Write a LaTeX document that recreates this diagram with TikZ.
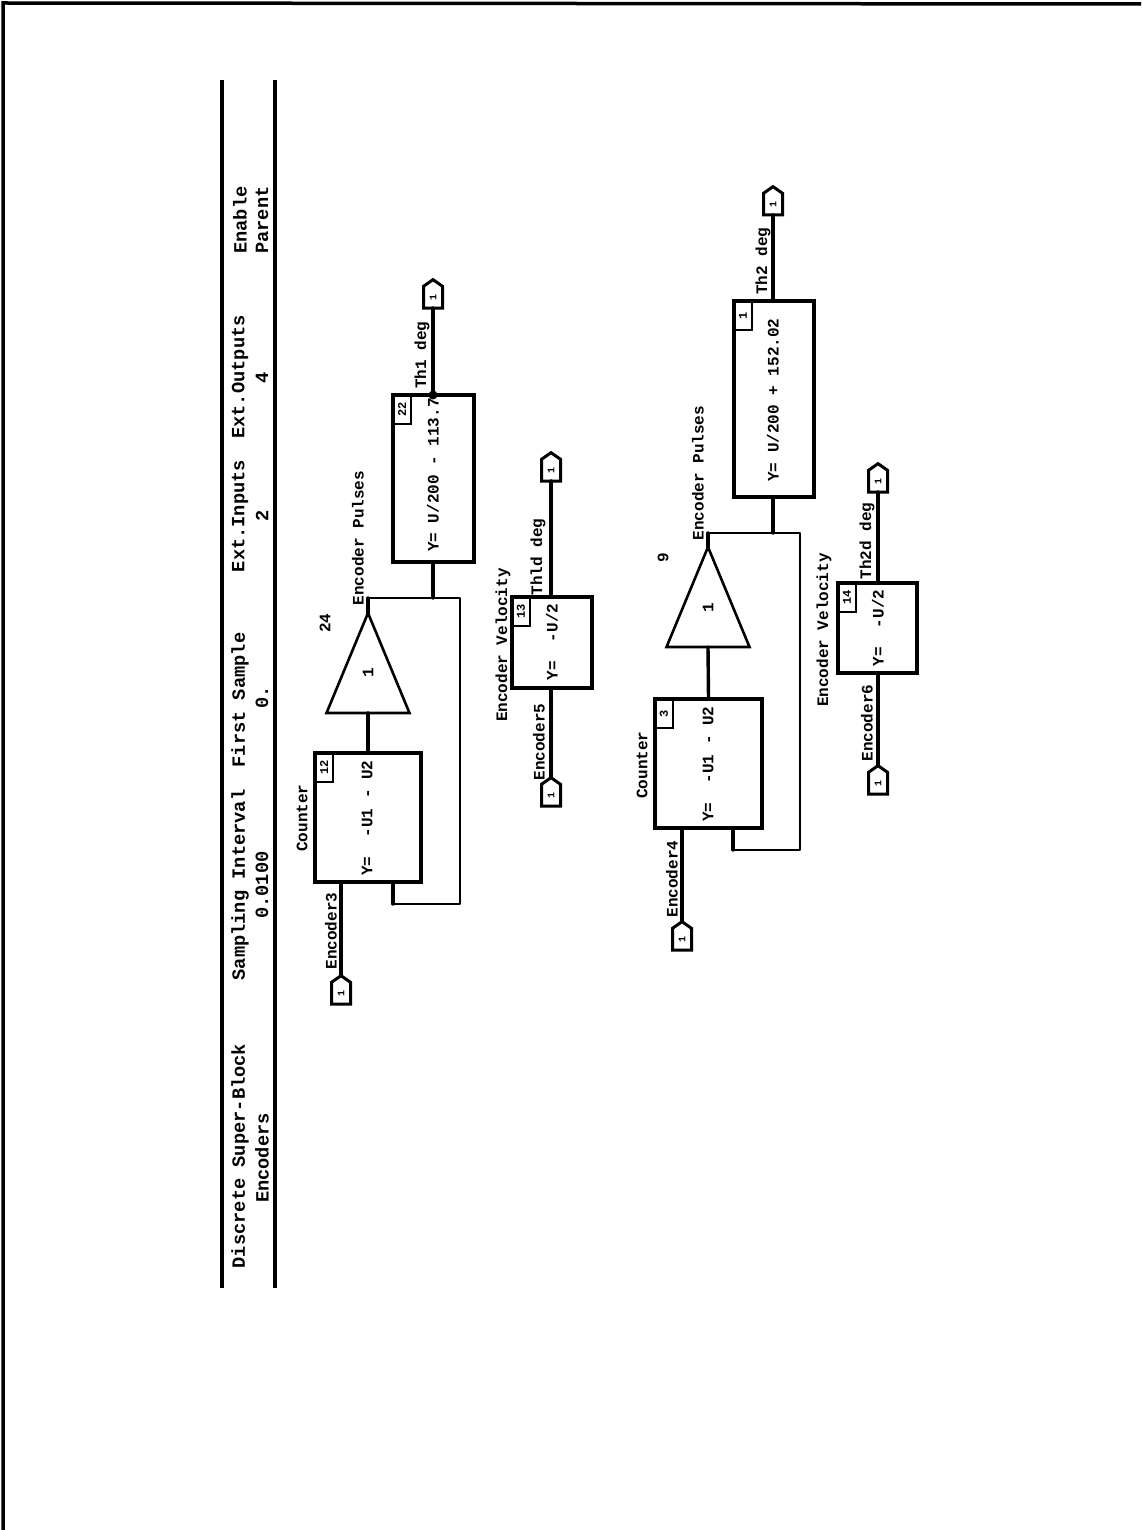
\documentclass[tikz,border=0pt]{standalone}
\usepackage{fontspec}
\usetikzlibrary{shapes.geometric,shapes.symbols}
\newfontfamily\plotfont{Liberation Mono}
\tikzset{
  x=1pt,y=-1pt,
  frameline/.style={line width=3.5pt,black},
  rule/.style={line width=3.5pt,black},
  blockbox/.style={draw,line width=3.2pt,rectangle,inner sep=0pt,outer sep=0pt,anchor=north west},
  tagbox/.style={draw,line width=2.2pt,rectangle,inner sep=0pt,outer sep=0pt,anchor=north west,minimum width=18pt,minimum height=29pt,font=\plotfont\bfseries\fontsize{12}{14}\selectfont},
  gainbox/.style={draw,line width=2.6pt,isosceles triangle,shape border rotate=90,isosceles triangle stretches,inner sep=0pt,outer sep=0pt,anchor=apex,minimum height=100pt,minimum width=83pt},
  portbox/.style={draw,line width=3pt,signal,signal to=north,signal pointer angle=110,inner sep=0pt,outer sep=0pt,minimum width=19pt,minimum height=24pt,anchor=south,font=\plotfont\bfseries\fontsize{10}{12}\selectfont},
  wire/.style={line width=3.4pt,line cap=round},
  thinwire/.style={line width=2.8pt,line join=round,line cap=round},
  txt/.style={rotate=90,inner sep=0pt,font=\plotfont\bfseries\fontsize{16}{18}\selectfont},
  headtxt/.style={rotate=90,inner sep=0pt,font=\plotfont\bfseries\fontsize{18.7}{20}\selectfont},
}
\begin{document}
\begin{tikzpicture}
\useasboundingbox (0,0) rectangle (1141,1530);
% page frame
\coordinate (fa) at (3,1530);
\coordinate (fb) at (3,3);
\coordinate (fc) at (1141,4);
\draw[frameline] (fa) -- (fb) -- (fc);
% header rules
\coordinate (r1a) at (222,80); \coordinate (r1b) at (222,1288);
\coordinate (r2a) at (275,80); \coordinate (r2b) at (275,1288);
\draw[rule] (r1a) -- (r1b);
\draw[rule] (r2a) -- (r2b);
% header text
\node[headtxt] (h1) at (240,1156) {Discrete Super-Block};
\node[headtxt] (h2) at (262,1158) {Encoders};
\node[headtxt] (h3) at (240,885) {Sampling Interval};
\node[headtxt] (h4) at (262,885) {0.0100};
\node[headtxt] (h5) at (240,700) {First Sample};
\node[headtxt] (h6) at (262,697) {0.};
\node[headtxt] (h7) at (240,516) {Ext.Inputs};
\node[headtxt] (h8) at (262,516) {2};
\node[headtxt] (h9) at (240,377) {Ext.Outputs};
\node[headtxt] (h10) at (262,378) {4};
\node[headtxt] (h11) at (240,220) {Enable};
\node[headtxt] (h12) at (262,220) {Parent};

% --- first channel
\node[blockbox,minimum width=106pt,minimum height=129pt] (b12) at (315,753) {};
\node[tagbox] (t12) at (b12.north west) {\rotatebox{90}{12}};
\node[txt] (y12) at (367,818) {Y=~~-U1 - U2};
\node[gainbox] (g24) at (368,613) {};
\node[txt] (k24) at (368,673) {1};
\node[txt] (n24) at (325,623) {24};
\node[txt] (l1) at (358,538) {Encoder Pulses};
\node[blockbox,minimum width=81pt,minimum height=167pt] (b22) at (393,395) {};
\node[tagbox] (t22) at (b22.north west) {\rotatebox{90}{22}};
\node[txt] (y22) at (433,475) {Y= U/200 - 113.7};
\node[portbox] (pi1) at (341,1004) {\rotatebox{90}{1}};
\node[portbox] (po1) at (433,308) {\rotatebox{90}{1}};
\node[txt] (l2) at (302,818) {Counter};
\node[txt] (l3) at (331,931) {Encoder3};
\node[txt] (l4) at (422,355) {Th1 deg};
\coordinate (a1) at (341,882);
\coordinate (a2) at (393,882);
\coordinate (a3) at (393,904);
\coordinate (a4) at (460,904);
\coordinate (a5) at (460,598);
\coordinate (a6) at (368,598);
\coordinate (a7) at (433,598);
\coordinate (a8) at (433,562);
\coordinate (a9) at (433,395);
\draw[wire] (pi1.north) -- (a1);
\draw[wire] (b12.north) -- (g24.lower side);
\draw[wire] (g24.apex) -- (a6);
\draw[thinwire] (a6) -- (a5) -- (a4) -- (a3);
\draw[wire] (a3) -- (a2);
\draw[wire] (a7) -- (a8);
\draw[wire] (a9) -- (po1.south);
\fill (a9) circle (4.5pt);

% --- first velocity
\node[blockbox,minimum width=80pt,minimum height=91pt] (b13) at (512,597) {};
\node[tagbox] (t13) at (b13.north west) {\rotatebox{90}{13}};
\node[txt] (y13) at (552,642) {Y=~~-U/2};
\node[portbox] (pi2) at (551,806) {\rotatebox{90}{1}};
\node[portbox] (po2) at (551,481) {\rotatebox{90}{1}};
\node[txt] (l5) at (503,645) {Encoder Velocity};
\node[txt] (l6) at (539,742) {Encoder5};
\node[txt] (l7) at (538,557) {Thld deg};
\draw[wire] (pi2.north) -- (b13.south -| pi2.north);
\draw[wire] (b13.north -| po2.south) -- (po2.south);

% --- second channel
\node[blockbox,minimum width=107pt,minimum height=129pt] (b3) at (655,699) {};
\node[tagbox] (t3) at (b3.north west) {\rotatebox{90}{3}};
\node[txt] (y3) at (708,764) {Y=~~-U1 - U2};
\node[gainbox] (g9) at (708,547) {};
\node[txt] (k9) at (708,608) {1};
\node[txt] (n9) at (663,558) {9};
\node[txt] (l8) at (698,473) {Encoder Pulses};
\node[blockbox,minimum width=80pt,minimum height=196pt] (b1) at (734,301) {};
\node[tagbox] (t1) at (b1.north west) {\rotatebox{90}{1}};
\node[txt] (y1) at (773,400) {Y= U/200 + 152.02};
\node[portbox] (pi3) at (682,950) {\rotatebox{90}{1}};
\node[portbox] (po3) at (773,215) {\rotatebox{90}{1}};
\node[txt] (l9) at (642,765) {Counter};
\node[txt] (l10) at (672,879) {Encoder4};
\node[txt] (l11) at (763,261) {Th2 deg};
\coordinate (c1) at (682,828);
\coordinate (c2) at (733,828);
\coordinate (c3) at (733,850);
\coordinate (c4) at (800,850);
\coordinate (c5) at (800,533);
\coordinate (c6) at (708,533);
\coordinate (c7) at (773,533);
\coordinate (c8) at (773,497);
\coordinate (c9) at (773,301);
\draw[wire] (pi3.north) -- (c1);
\draw[wire] (b3.north) -- (g9.lower side);
\draw[wire] (g9.apex) -- (c6);
\draw[thinwire] (c6) -- (c5) -- (c4) -- (c3);
\draw[wire] (c3) -- (c2);
\draw[wire] (c7) -- (c8);
\draw[wire] (c9) -- (po3.south);

% --- second velocity
\node[blockbox,minimum width=79pt,minimum height=90pt] (b14) at (838,583) {};
\node[tagbox] (t14) at (b14.north west) {\rotatebox{90}{14}};
\node[txt] (y14) at (878,628) {Y=~~-U/2};
\node[portbox] (pi4) at (878,794) {\rotatebox{90}{1}};
\node[portbox] (po4) at (878,492) {\rotatebox{90}{1}};
\node[txt] (l12) at (824,630) {Encoder Velocity};
\node[txt] (l13) at (867,723) {Encoder6};
\node[txt] (l14) at (867,541) {Th2d deg};
\draw[wire] (pi4.north) -- (b14.south -| pi4.north);
\draw[wire] (b14.north -| po4.south) -- (po4.south);
\end{tikzpicture}
\end{document}
